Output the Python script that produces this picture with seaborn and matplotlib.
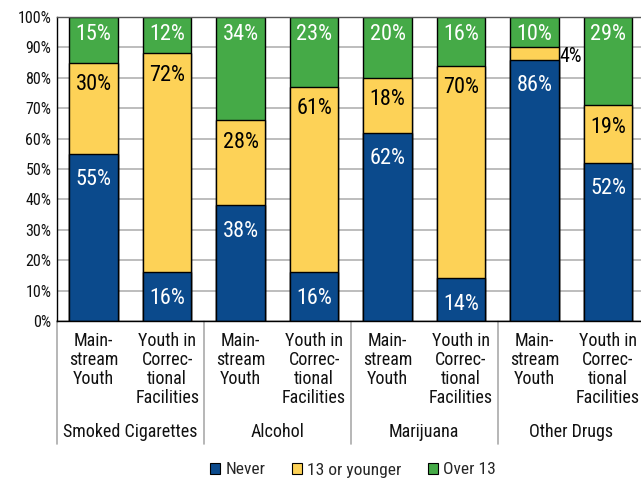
import matplotlib
matplotlib.use("Agg")
import matplotlib.pyplot as plt
import matplotlib.patches as mpatches
from matplotlib import font_manager
import seaborn as sns
import pandas as pd

groups = ["Smoked Cigarettes", "Alcohol", "Marijuana", "Other Drugs"]
subcats = ["Main-\nstream\nYouth", "Youth in\nCorrec-\ntional\nFacilities"]
never = [55, 16, 38, 16, 62, 14, 86, 52]
young = [30, 72, 28, 61, 18, 70, 4, 19]
over13 = [15, 12, 34, 23, 20, 16, 10, 29]
yticks = [0, 10, 20, 30, 40, 50, 60, 70, 80, 90, 100]
series_names = ["Never", "13 or younger", "Over 13"]

C_NAVY = "#0b4a8c"
C_YEL = "#fdd257"
C_GRN = "#45aa47"

sns.set_theme(style="white")
installed = {f.name for f in font_manager.fontManager.ttflist}
cands = ["Roboto Condensed", "Liberation Sans Narrow", "DejaVu Sans Condensed",
         "Open Sans Condensed", "Roboto"]
fam = [c for c in cands if c in installed][:1] + ["DejaVu Sans"]
plt.rcParams["font.family"] = fam

n = len(never)
pos = list(range(n))
df = pd.DataFrame({"pos": pos, "never": never, "young": young, "over": over13})
df["cum_young"] = df["never"] + df["young"]
df["cum_over"] = df["cum_young"] + df["over"]

fig = plt.figure(figsize=(6.41, 4.82), dpi=100)
ax = fig.add_axes([57 / 641, 1 - 321 / 482, 1 - 57 / 641, 304 / 482])

bw = 0.66
for col, c in [("cum_over", C_GRN), ("cum_young", C_YEL), ("never", C_NAVY)]:
    sns.barplot(data=df, x="pos", y=col, ax=ax, color=c, width=bw,
                edgecolor="black", linewidth=1.0, saturation=1, order=pos)

ax.set_ylim(0, 100)
ax.set_xlim(-0.5, 7.45)
ax.set_yticks(yticks)
ax.set_yticklabels([f"{v}%" for v in yticks], fontsize=11.5, color="#111111")
ax.set_xticks([])
ax.set_xlabel("")
ax.set_ylabel("")
ax.yaxis.grid(True, color="#b8b8b8", linewidth=1.3)
ax.set_axisbelow(True)
for s in ["left", "bottom", "top"]:
    ax.spines[s].set_color("black")
    ax.spines[s].set_linewidth(1.0)
ax.spines["top"].set_color("#555555")
ax.spines["right"].set_visible(False)
ax.tick_params(axis="y", length=0, pad=4)

fs = 16
for i in range(n):
    nv, yg, ov = never[i], young[i], over13[i]
    ax.annotate(f"{nv}%", (i, nv), xytext=(0, -26), textcoords="offset pixels",
                ha="center", va="center", color="white", fontsize=fs)
    if yg >= 10:
        ax.annotate(f"{yg}%", (i, nv + yg), xytext=(0, -22), textcoords="offset pixels",
                    ha="center", va="center", color="black", fontsize=fs)
    else:
        ax.annotate(f"{yg}%", (i + bw / 2, nv + yg / 2), xytext=(1, -3),
                    textcoords="offset pixels", ha="left", va="center",
                    color="black", fontsize=fs - 1.5)
    ax.annotate(f"{ov}%", (i, 100), xytext=(0, -18), textcoords="offset pixels",
                ha="center", va="center", color="white", fontsize=fs)

trans = ax.get_xaxis_transform()
for i in range(n):
    ax.text(i, (321 - 332) / 304, subcats[i % 2], transform=trans, ha="center",
            va="top", fontsize=13, linespacing=1.08, clip_on=False, color="#111111")
for g, name in enumerate(groups):
    ax.text(2 * g + 0.5, (321 - 432) / 304, name, transform=trans, ha="center",
            va="center", fontsize=13, clip_on=False, color="#111111")
for xs in [-0.5, 1.5, 3.5, 5.5]:
    ax.plot([xs, xs], [0, (321 - 444) / 304], transform=trans, color="#aaaaaa",
            linewidth=1.2, clip_on=False)

handles = [mpatches.Patch(facecolor=c, edgecolor="black", linewidth=0.8, label=l)
           for c, l in zip([C_NAVY, C_YEL, C_GRN], series_names)]
fig.legend(handles=handles, loc="center", bbox_to_anchor=(353 / 641, 1 - 470 / 482),
           ncol=3, frameon=False, fontsize=12.5, handlelength=0.6, handleheight=0.6,
           handletextpad=0.3, columnspacing=1.5)

fig.savefig("out.png", dpi=100)
